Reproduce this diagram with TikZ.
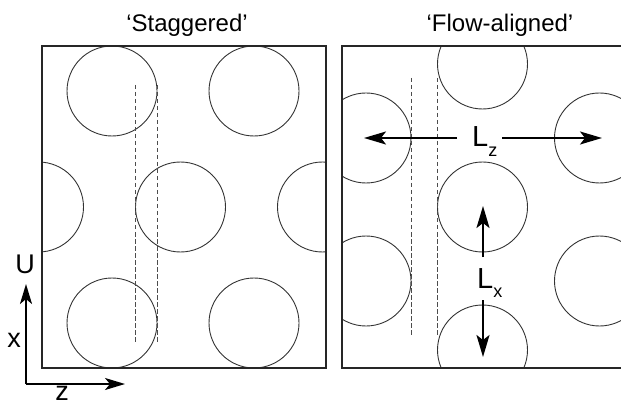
\documentclass[tikz,border=0pt]{standalone}
\usepackage{fontspec}
\setmainfont{Liberation Sans}
\usetikzlibrary{arrows.meta}
\begin{document}
\begin{tikzpicture}[x=1pt,y=-1pt,
  boxline/.style={line width=1.6pt, draw=black!85, line join=miter},
  cyl/.style={line width=0.9pt, draw=black!80},
  guide/.style={line width=1pt, draw=black!70, dash pattern=on 4.5pt off 2.5pt},
  dimarrow/.style={line width=2pt, -{Stealth[length=22pt,width=13pt,inset=5pt]}},
  axarrow/.style={line width=2pt, -{Stealth[length=20pt,width=12pt,inset=5pt]}},
  title/.style={font=\fontsize{24}{28}\selectfont, anchor=base, inner sep=0pt},
  axlabel/.style={font=\fontsize{27}{30}\selectfont, anchor=base, inner sep=0pt},
  dimlabel/.style={font=\fontsize{29}{32}\selectfont, anchor=base west, inner sep=0pt}]
\useasboundingbox (0,0) rectangle (621,406);

% titles
\node[title] (tstag) at (187,32) {‘Staggered’};
\node[title] (tflow) at (500,32) {‘Flow-aligned’};

% ---------- staggered box ----------
\begin{scope}
  \clip (42,46) rectangle (326,368);
  \draw[cyl] (112,91) circle[radius=45pt];
  \draw[cyl] (254,91) circle[radius=45pt];
  \draw[cyl] (38.5,207) circle[radius=45pt];
  \draw[cyl] (180.5,207) circle[radius=45pt];
  \draw[cyl] (322.5,207) circle[radius=45pt];
  \draw[cyl] (112,323) circle[radius=45pt];
  \draw[cyl] (254,323) circle[radius=45pt];
\end{scope}
\draw[boxline] (42,46) rectangle (326,368);
\coordinate (sa1) at (135,85);  \coordinate (sa2) at (135,343);
\coordinate (sb1) at (157,85);  \coordinate (sb2) at (157,343);
\draw[guide] (sa1) -- (sa2);
\draw[guide] (sb1) -- (sb2);

% ---------- flow-aligned box ----------
\begin{scope}
  \clip (342,46) rectangle (621,368);
  \draw[cyl] (482.5,64) circle[radius=45pt];
  \draw[cyl] (482.5,207) circle[radius=45pt];
  \draw[cyl] (482.5,350) circle[radius=45pt];
  \draw[cyl] (366,138) circle[radius=45pt];
  \draw[cyl] (366,281) circle[radius=45pt];
  \draw[cyl] (599.5,138) circle[radius=45pt];
  \draw[cyl] (599.5,281) circle[radius=45pt];
\end{scope}
\draw[boxline] (624,46) -- (342,46) -- (342,368) -- (624,368);
\coordinate (fa1) at (411,78);  \coordinate (fa2) at (411,336);
\coordinate (fb1) at (437,78);  \coordinate (fb2) at (437,336);
\draw[guide] (fa1) -- (fa2);
\draw[guide] (fb1) -- (fb2);

% L_z
\node[dimlabel] (lz) at (472,147) {L\raisebox{-10pt}{\fontsize{18}{20}\selectfont z}};
\coordinate (lzl) at (457,138); \coordinate (lzlt) at (364,138);
\coordinate (lzr) at (502,138); \coordinate (lzrt) at (602,138);
\draw[dimarrow] (lzl) -- (lzlt);
\draw[dimarrow] (lzr) -- (lzrt);

% L_x
\node[dimlabel] (lx) at (477,288) {L\raisebox{-9pt}{\fontsize{18}{20}\selectfont x}};
\coordinate (lxu) at (483,257); \coordinate (lxut) at (483,206);
\coordinate (lxd) at (483,300); \coordinate (lxdt) at (483,357);
\draw[dimarrow] (lxu) -- (lxut);
\draw[dimarrow] (lxd) -- (lxdt);

% axes
\coordinate (org) at (26,384);
\coordinate (xtip) at (26,284);
\coordinate (ztip) at (125,384);
\draw[axarrow] (org) -- (xtip);
\draw[axarrow] (org) -- (ztip);
\node[axlabel] (lu) at (25,273) {U};
\node[axlabel] (lxa) at (14,347) {x};
\node[axlabel] (lza) at (62,400) {z};
\end{tikzpicture}
\end{document}
